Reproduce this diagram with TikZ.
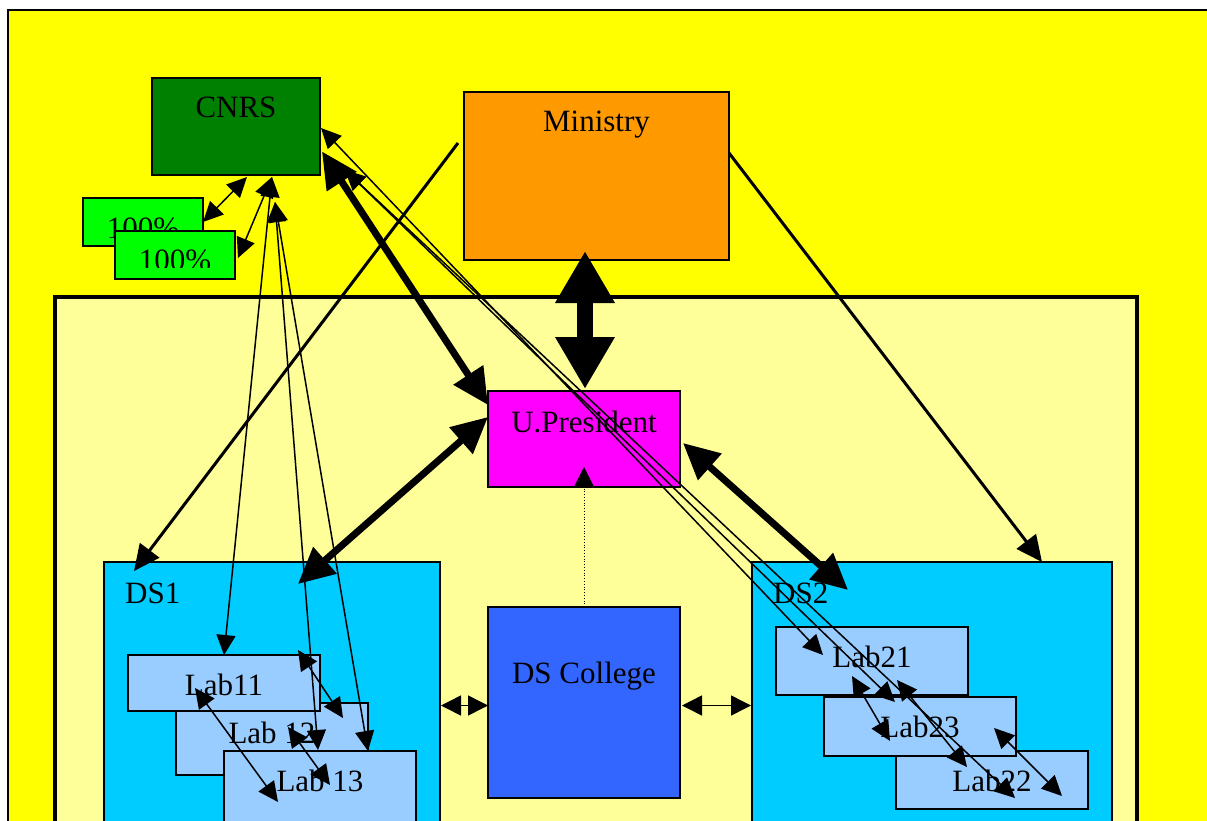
\documentclass[tikz,border=0pt]{standalone}
\usepackage{fontspec}
\setmainfont{Liberation Serif}
\usetikzlibrary{arrows.meta,calc,positioning}

\definecolor{pageyellow}{HTML}{FFFF00}
\definecolor{univyellow}{HTML}{FFFF99}
\definecolor{cnrsgreen}{HTML}{008000}
\definecolor{pctgreen}{HTML}{00FF00}
\definecolor{ministryorange}{HTML}{FF9900}
\definecolor{presmagenta}{HTML}{FF00FF}
\definecolor{collegeblue}{HTML}{3366FF}
\definecolor{dscyan}{HTML}{00CCFF}
\definecolor{labblue}{HTML}{99CCFF}

\begin{document}
\begin{tikzpicture}[x=1pt, y=-1pt,
      box/.style = {draw, line width=1.5pt, anchor=north west,
         inner sep=0pt, outer sep=0pt},
      boxtext/.style = {anchor=base, inner sep=0pt,
         font=\fontsize{31}{36}\selectfont},
      link/.style = {line width=1.5pt,
         {Triangle[length=20pt,width=19pt]}-{Triangle[length=20pt,width=19pt]}},
      side/.style = {line width=1.5pt,
         {Triangle[length=20pt,width=20pt]}-{Triangle[length=20pt,width=20pt]}},
      order/.style = {line width=3pt, -{Triangle[length=26pt,width=24pt]}},
      strong/.style = {line width=7pt,
         {Triangle[length=36pt,width=34pt]}-{Triangle[length=36pt,width=34pt]}},
      main/.style = {line width=16pt,
         {Triangle[length=52pt,width=56pt]}-{Triangle[length=52pt,width=56pt]}}]

   \clip (0,0) rectangle (1207,821);

   % background and university frame
   \draw[line width=1.5pt, fill=pageyellow] (8,10) rectangle (1240,860);
   \draw[line width=4pt, fill=univyellow] (55,297) rectangle (1137,860);

   % outside the university
   \node[box, fill=cnrsgreen, minimum width=168, minimum height=97] (cnrs) at (152,78) {};
   \node[boxtext] (cnrstext) at ($(cnrs.north)+(0,40)$) {CNRS};

   \node[box, fill=ministryorange, minimum width=265, minimum height=168] (ministry) at (464,92) {};
   \node[boxtext] (ministrytext) at ($(ministry.north)+(0,40)$) {Ministry};

   \node[box, fill=pctgreen, minimum width=120, minimum height=48] (pctA) at (83,198) {};
   \node[boxtext] (pctAtext) at ($(pctA.north)+(0,40)$) {100\%};
   \node[box, fill=pctgreen, minimum width=120, minimum height=48] (pctB) at (115,231) {};
   \begin{scope}
      \clip (pctB.north west) rectangle ($(pctB.south east)+(0,-12)$);
      \node[boxtext] (pctBtext) at ($(pctB.north)+(0,39)$) {100\%};
   \end{scope}

   % university
   \node[box, fill=presmagenta, minimum width=192, minimum height=96] (pres) at (488,391) {};
   \node[boxtext] (prestext) at ($(pres.north)+(0,41)$) {U.President};

   \node[box, fill=collegeblue, minimum width=192, minimum height=191] (college) at (488,607) {};
   \node[boxtext] (collegetext) at ($(college.north)+(0,76)$) {DS College};

   \node[box, fill=dscyan, minimum width=336, minimum height=300] (ds1) at (104,562) {};
   \node[boxtext, anchor=base west] (ds1text) at ($(ds1.north west)+(21,41)$) {DS1};
   \node[box, fill=dscyan, minimum width=360, minimum height=300] (ds2) at (752,562) {};
   \node[boxtext, anchor=base west] (ds2text) at ($(ds2.north west)+(21,41)$) {DS2};

   % labs of DS1
   \node[box, fill=labblue, minimum width=192, minimum height=72] (lab12) at (176,703) {};
   \node[boxtext] (lab12text) at ($(lab12.north)+(0,40)$) {Lab 12};
   \node[box, fill=labblue, minimum width=192, minimum height=56] (lab11) at (128,655) {};
   \node[boxtext] (lab11text) at ($(lab11.north)+(0,40)$) {Lab11};
   \node[box, fill=labblue, minimum width=192, minimum height=80] (lab13) at (224,751) {};
   \node[boxtext] (lab13text) at ($(lab13.north)+(0,40)$) {Lab 13};

   % labs of DS2
   \node[box, fill=labblue, minimum width=192, minimum height=58] (lab22) at (896,751) {};
   \node[boxtext] (lab22text) at ($(lab22.north)+(0,40)$) {Lab22};
   \node[box, fill=labblue, minimum width=192, minimum height=59] (lab23) at (824,697) {};
   \node[boxtext] (lab23text) at ($(lab23.north)+(0,40)$) {Lab23};
   \node[box, fill=labblue, minimum width=192, minimum height=68] (lab21) at (776,627) {};
   \node[boxtext] (lab21text) at ($(lab21.north)+(0,40)$) {Lab21};

   % ministry and president
   \draw[main] ($(pres.north)+(1,-2)$) -- ($(pres.north |- ministry.south)+(1,-9)$);
   \draw[order] ($(ministry.west)+(-6,-33)$) -- ($(ds1.north west)+(30,9)$);
   \draw[order] ($(ministry.east)+(0,-23)$) -- ($(ds2.north east)+(-70,0)$);

   \draw[strong] ($(cnrs.east)+(2,25)$) -- ($(pres.north west)+(0,14)$);
   \draw[strong] ($(pres.north west)+(0,26)$) -- ($(ds1.north west)+(194,22)$);
   \draw[strong] ($(pres.east)+(3,4)$) -- ($(ds2.north west)+(96,28)$);

   % college
   \draw[dotted, line width=0.8pt, -{Triangle[length=20pt,width=20pt]}]
      (college.north) -- ($(pres.south)+(0,-20)$);
   \draw[side] ($(college.west)+(0,3)$) -- ($(college.west -| ds1.east)+(1,3)$);
   \draw[side] ($(college.east)+(2,3)$) -- ($(college.east -| ds2.west)+(-1,3)$);

   % cnrs links
   \draw[link] ($(cnrs.south west)+(95,2)$) -- (pctA.east);
   \draw[link] ($(cnrs.south)+(36,2)$) -- ($(pctB.east)+(3,3)$);
   \draw[link] ($(cnrs.south)+(36,2)$) -- (lab11.north);
   \draw[link] ($(cnrs.south)+(39,27)$) -- ($(lab12.north west)+(142,47)$);
   \draw[link] ($(cnrs.south)+(39,27)$) -- ($(lab13.north west)+(144,0)$);
   \draw[link] ($(cnrs.east)+(1,1.5)$) -- ($(lab21.north west)+(47,28)$);
   \draw[link] ($(cnrs.south east)+(25,-5)$) -- ($(lab23.north west)+(71,5)$);
   \draw[link] ($(cnrs.south east)+(25,-5)$) -- ($(lab22.north west)+(119,47)$);

   % between labs
   \draw[link] ($(lab11.north east)+(-22,-5)$) -- ($(lab12.north east)+(-25,15)$);
   \draw[link] ($(lab11.west)+(67,5)$) -- ($(lab13.north west)+(54,51)$);
   \draw[link] ($(lab12.north west)+(112,24)$) -- ($(lab13.north west)+(106,34)$);
   \draw[link] ($(lab21.north west)+(121,53)$) -- ($(lab22.north west)+(71,16)$);
   \draw[link] ($(lab21.north west)+(76,49)$) -- ($(lab23.north west)+(66,44)$);
   \draw[link] ($(lab23.north west)+(170,31)$) -- ($(lab22.north west)+(166,45)$);

\end{tikzpicture}
\end{document}
